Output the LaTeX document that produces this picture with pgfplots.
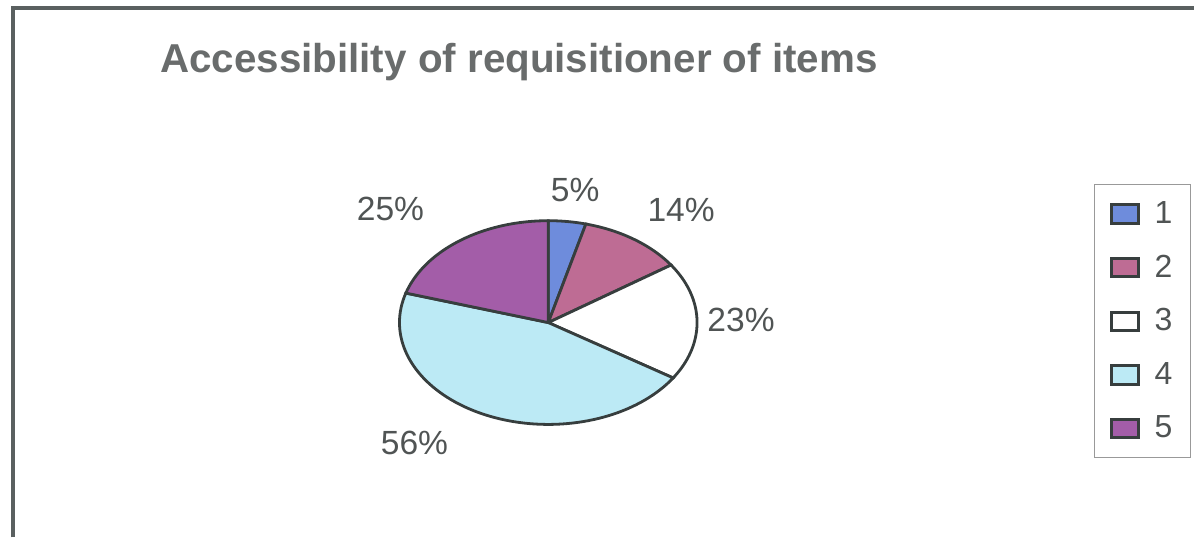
\documentclass[border=0pt]{standalone}
\usepackage{pgfplots}
\pgfplotsset{compat=1.18}
\usepackage{fontspec}
\setmainfont{Liberation Sans}
\definecolor{frame}{RGB}{90,96,96}
\definecolor{edge}{RGB}{55,62,62}
\definecolor{titlegray}{RGB}{105,108,108}
\definecolor{labgray}{RGB}{80,84,84}
\definecolor{cA}{RGB}{110,140,220}
\definecolor{cB}{RGB}{190,108,148}
\definecolor{cC}{RGB}{255,255,255}
\definecolor{cD}{RGB}{188,234,245}
\definecolor{cE}{RGB}{163,93,168}
% data values (percent labels as shown)
\def\vA{5}\def\vB{14}\def\vC{23}\def\vD{56}\def\vE{25}
\pgfmathsetmacro\tot{\vA+\vB+\vC+\vD+\vE}
\pgfmathsetmacro\aA{\vA/\tot*360}
\pgfmathsetmacro\aB{(\vA+\vB)/\tot*360}
\pgfmathsetmacro\aC{(\vA+\vB+\vC)/\tot*360}
\pgfmathsetmacro\aD{(\vA+\vB+\vC+\vD)/\tot*360}
\begin{document}
\begin{tikzpicture}
\begin{axis}[
  width=598pt, height=269pt, scale only axis,
  xmin=0, xmax=1196, ymin=0, ymax=538,
  axis lines=none, clip=false,
  area legend,
  legend image code/.code={\draw[#1, line width=1.5pt] (0pt,-4.6pt) rectangle (13.5pt,4.6pt);},
  legend style={at={(axis cs:1144,216.5)}, anchor=center, draw=gray!80, line width=0.5pt,
    font=\fontsize{16}{17}\selectfont\color{labgray}, inner xsep=7.5pt, inner ysep=6.3pt,
    nodes={inner xsep=1.5pt, inner ysep=2pt},
    column sep=6pt, row sep=10.25pt, cells={anchor=west}},
  legend entries={1,2,3,4,5},
]
\path (axis cs:0,0) rectangle (axis cs:1196,538);
\addplot[fill=cA, draw=edge, line width=1.4pt, domain=0:\aA, samples=20]
  ({549+149*sin(x)},{215+102*cos(x)}) -- (axis cs:549,215) -- cycle;
\addplot[fill=cB, draw=edge, line width=1.4pt, domain=\aA:\aB, samples=30]
  ({549+149*sin(x)},{215+102*cos(x)}) -- (axis cs:549,215) -- cycle;
\addplot[fill=cC, draw=edge, line width=1.4pt, domain=\aB:\aC, samples=40]
  ({549+149*sin(x)},{215+102*cos(x)}) -- (axis cs:549,215) -- cycle;
\addplot[fill=cD, draw=edge, line width=1.4pt, domain=\aC:\aD, samples=80]
  ({549+149*sin(x)},{215+102*cos(x)}) -- (axis cs:549,215) -- cycle;
\addplot[fill=cE, draw=edge, line width=1.4pt, domain=\aD:360, samples=40]
  ({549+149*sin(x)},{215+102*cos(x)}) -- (axis cs:549,215) -- cycle;
% frame
\draw[frame, line width=1.6pt] (axis cs:13,0) -- (axis cs:13,530) -- (axis cs:1196,530);
% title
\node[anchor=base west, font=\fontsize{20.2}{22}\selectfont\bfseries, text=titlegray, inner sep=0pt]
  at (axis cs:160,465) {Accessibility of requisitioner of items};
% labels
\begin{scope}[every node/.style={font=\fontsize{16.8}{18}\selectfont, text=labgray, inner sep=0pt}]
\node at (axis cs:576,348) {5\%};
\node at (axis cs:682,328) {14\%};
\node at (axis cs:742,218) {23\%};
\node at (axis cs:415,94) {56\%};
\node at (axis cs:391,329) {25\%};
\end{scope}
\end{axis}
\end{tikzpicture}
\end{document}
